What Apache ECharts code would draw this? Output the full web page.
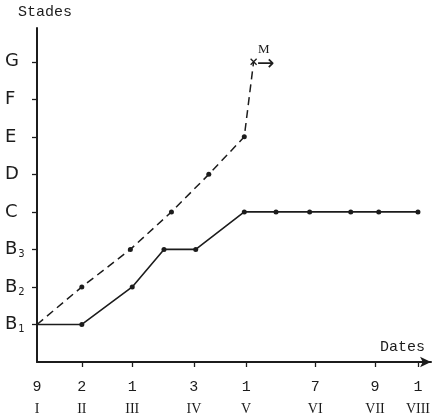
<!DOCTYPE html>
<html>
<head>
<meta charset="utf-8">
<style>
  html, body { margin: 0; padding: 0; background: #fff; }
  #chart { width: 433px; height: 420px; }
</style>
<script src="https://cdn.jsdelivr.net/npm/echarts@6/dist/echarts.min.js"></script>
</head>
<body>
<div id="chart"></div>
<script>
// x axis: day of the year, ticks at the dates written under the axis
const dateTicks = [9, 33, 60, 93, 121, 158, 190, 213]
const dayLabels = ['9', '2', '1', '3', '1', '7', '9', '1']
const monthLabels = ['I', 'II', 'III', 'IV', 'V', 'VI', 'VII', 'VIII']

// y axis: stades 1..8
const stadeTicks = [1, 2, 3, 4, 5, 6, 7, 8]
const stadeLabels = ['B{s|1}', 'B{s|2}', 'B{s|3}', 'C', 'D', 'E', 'F', 'G']

// solid line
const solidDays = [9, 33, 60, 77, 94, 120, 137, 155, 177, 192, 213]
const solidStades = [1, 1, 2, 3, 3, 4, 4, 4, 4, 4, 4]

// dashed line, ends at M
const dashedDays = [9, 33, 59, 81, 101, 120, 125]
const dashedStades = [1, 2, 3, 4, 5, 6, 8]

const ink = '#1c1c1c'
const mono = '"Liberation Mono", "DejaVu Sans Mono", monospace'

function buildData(days, stades) {
  return days.map((d, i) => {
    const item = { value: [d, stades[i]] }
    if (i === 0) item.symbol = 'none'
    return item
  })
}

const solidData = buildData(solidDays, solidStades)
const dashedData = buildData(dashedDays, dashedStades)
const last = dashedData[dashedData.length - 1]
last.symbol = 'path://M0,0L10,10M10,0L0,10'
last.symbolSize = 6
last.itemStyle = { color: 'none', borderColor: ink, borderWidth: 1.3 }
last.label = {
  show: true,
  position: [9, -14],
  align: 'left',
  verticalAlign: 'top',
  formatter: '{m|M}\n{a|→}',
  rich: {
    m: { fontFamily: '"Liberation Serif", serif', fontSize: 13, color: ink, lineHeight: 14, padding: [0, 0, 0, 1] },
    a: { fontFamily: '"DejaVu Sans", sans-serif', fontSize: 21, color: ink, lineHeight: 16 },
  },
}

const option = {
  animation: false,
  backgroundColor: '#fff',
  grid: { left: 37, right: 1, top: 28, bottom: 58 },
  graphic: [
    {
      type: 'text', left: 18, top: 5,
      style: { text: 'Stades', font: '15px ' + mono, fill: ink },
    },
    {
      type: 'text', left: 380, top: 340,
      style: { text: 'Dates', font: '15px ' + mono, fill: ink },
    },
  ],
  xAxis: {
    type: 'value',
    min: 9,
    max: 220,
    splitLine: { show: false },
    axisLine: {
      onZero: false,
      lineStyle: { color: ink, width: 2 },
      symbol: ['none', 'arrow'],
      symbolSize: [8, 11],
    },
    axisTick: {
      customValues: dateTicks.slice(1),
      length: 5,
      lineStyle: { color: ink, width: 1.3 },
    },
    axisLabel: {
      customValues: dateTicks,
      margin: 14,
      formatter: (v) => {
        const i = dateTicks.indexOf(v)
        return i < 0 ? '' : '{d|' + dayLabels[i] + '}\n{r|' + monthLabels[i] + '}'
      },
      rich: {
        d: { fontFamily: mono, fontSize: 15, color: ink, lineHeight: 22 },
        r: { fontFamily: '"Liberation Serif", serif', fontSize: 14, color: ink, lineHeight: 22 },
      },
    },
  },
  yAxis: {
    type: 'value',
    min: 0,
    max: 8.9,
    splitLine: { show: false },
    axisLine: { lineStyle: { color: ink, width: 2 } },
    axisTick: {
      customValues: stadeTicks,
      length: 5,
      inside: false,
      lineStyle: { color: ink, width: 1.3 },
    },
    axisLabel: {
      customValues: stadeTicks,
      margin: 32,
      align: 'left',
      formatter: (v) => {
        const i = stadeTicks.indexOf(v)
        return i < 0 ? '' : stadeLabels[i]
      },
      fontFamily: '"DejaVu Sans", sans-serif',
      fontSize: 18,
      color: ink,
      rich: {
        s: { fontFamily: '"DejaVu Sans", sans-serif', fontSize: 10, color: ink, padding: [10, 0, 0, 1] },
      },
    },
  },
  series: [
    {
      type: 'line',
      data: solidData,
      symbol: 'circle',
      symbolSize: 5,
      itemStyle: { color: ink },
      lineStyle: { color: ink, width: 1.6 },
    },
    {
      type: 'line',
      data: dashedData,
      symbol: 'circle',
      symbolSize: 5,
      itemStyle: { color: ink },
      lineStyle: { color: ink, width: 1.5, type: [8, 5] },
    },
  ],
}

const chart = echarts.init(document.getElementById('chart'))
chart.setOption(option)
</script>
</body>
</html>
